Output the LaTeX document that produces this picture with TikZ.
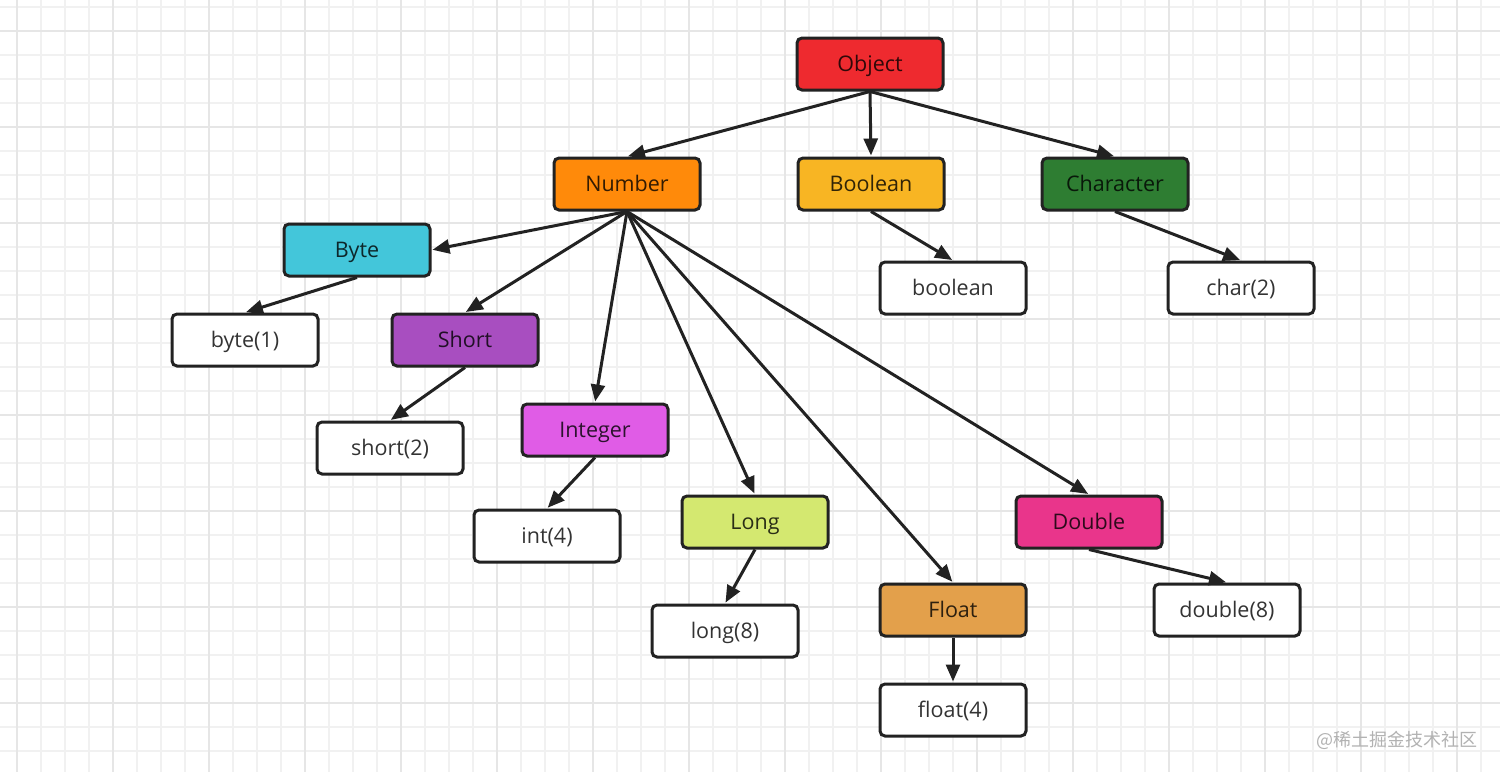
\documentclass[tikz,border=0pt]{standalone}
\usepackage{fontspec}
\setmainfont{Open Sans}
\newfontfamily\cjk{Noto Sans CJK SC}
\usetikzlibrary{arrows.meta}
\definecolor{cObject}{HTML}{EE2A2F}
\definecolor{cNumber}{HTML}{FF8A0A}
\definecolor{cBoolean}{HTML}{F8B523}
\definecolor{cChar}{HTML}{2E7D32}
\definecolor{cByte}{HTML}{43C6DA}
\definecolor{cShort}{HTML}{A84EC0}
\definecolor{cInteger}{HTML}{E05CE6}
\definecolor{cLong}{HTML}{D4E870}
\definecolor{cDouble}{HTML}{E9358B}
\definecolor{cFloat}{HTML}{E3A04B}
\definecolor{gridminor}{HTML}{F1F1F1}
\definecolor{gridmajor}{HTML}{E6E6E6}
\definecolor{edge}{HTML}{222222}
\tikzset{
  box/.style={draw=edge, line width=3pt, rounded corners=5pt,
    minimum width=146pt, minimum height=52pt, inner sep=0pt,
    text height=17pt, text depth=3pt,
    font=\fontsize{21.5}{25}\selectfont, text=black, text opacity=0.8},
  leaf/.style={box, fill=white},
  arr/.style={draw=edge, line width=3pt, -{Triangle[length=17pt,width=14pt]}, shorten >=1pt}
}
\begin{document}
\begin{tikzpicture}[x=1pt,y=-1pt]
\useasboundingbox (0,0) rectangle (1500,772);
\fill[white] (0,0) rectangle (1500,772);
% grid
\foreach \i in {0,...,62} {\draw[gridminor,line width=1.5pt] (17+24*\i,0) -- (17+24*\i,772);}
\foreach \j in {0,...,32} {\draw[gridminor,line width=1.5pt] (0,7+24*\j) -- (1500,7+24*\j);}
\foreach \i in {0,...,15} {\draw[gridmajor,line width=1.7pt] (17+96*\i,0) -- (17+96*\i,772);}
\foreach \j in {0,...,7} {\draw[gridmajor,line width=1.7pt] (0,31+96*\j) -- (1500,31+96*\j);}
% nodes
\node[box, fill=cObject] (obj) at (870,64) {Object};
\node[box, fill=cNumber] (num) at (627,184) {Number};
\node[box, fill=cBoolean] (boo) at (871,184) {Boolean};
\node[box, fill=cChar] (cha) at (1115,184) {Character};
\node[box, fill=cByte] (byt) at (357,250) {Byte};
\node[leaf] (boolp) at (953,288) {boolean};
\node[leaf] (charp) at (1241,288) {char(2)};
\node[leaf] (bytep) at (245,340) {byte(1)};
\node[box, fill=cShort] (sho) at (465,340) {Short};
\node[leaf] (shortp) at (390,448) {short(2)};
\node[box, fill=cInteger] (int) at (595,430) {Integer};
\node[leaf] (intp) at (547,536) {int(4)};
\node[box, fill=cLong] (lon) at (755,522) {Long};
\node[leaf] (longp) at (725,631) {long(8)};
\node[box, fill=cDouble] (dou) at (1089,522) {Double};
\node[leaf] (doublep) at (1227,610) {double(8)};
\node[box, fill=cFloat] (flo) at (953,610) {Float};
\node[leaf] (floatp) at (953,710) {float(4)};
% edges
\draw[arr] (obj.south) -- (num.north);
\draw[arr] (obj.south) -- (boo.north);
\draw[arr] (obj.south) -- (cha.north);
\draw[arr] (num.south) -- (byt.east);
\draw[arr] (num.south) -- (sho.north);
\draw[arr] (num.south) -- (int.north);
\draw[arr] (num.south) -- (lon.north);
\draw[arr] (num.south) -- (flo.north);
\draw[arr] (num.south) -- (dou.north);
\draw[arr] (boo.south) -- (boolp.north);
\draw[arr] (cha.south) -- (charp.north);
\draw[arr] (byt.south) -- (bytep.north);
\draw[arr] (sho.south) -- (shortp.north);
\draw[arr] (int.south) -- (intp.north);
\draw[arr] (lon.south) -- (longp.north);
\draw[arr] (dou.south) -- (doublep.north);
\draw[arr] (flo.south) -- (floatp.north);
% watermark
\node[anchor=east, text=black!30, font=\cjk\fontsize{18}{20}\selectfont, inner sep=0pt] (wm) at (1478,740) {@稀土掘金技术社区};
\end{tikzpicture}
\end{document}
